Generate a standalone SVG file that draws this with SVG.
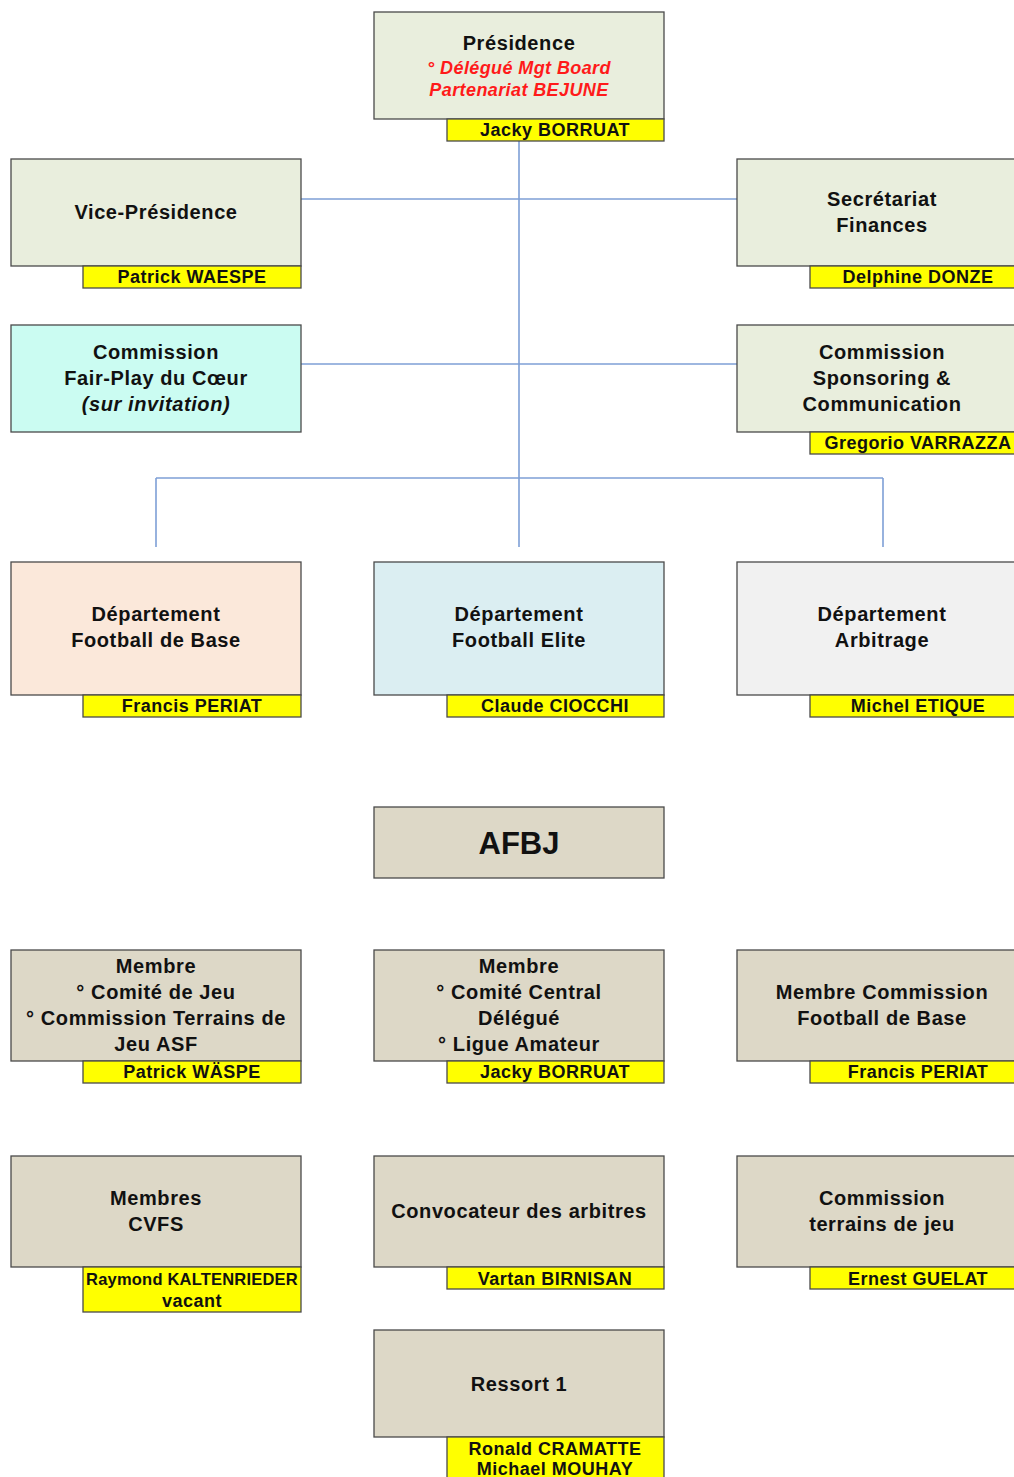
<svg xmlns="http://www.w3.org/2000/svg" width="1014" height="1477" viewBox="0 0 1014 1477">
<style>
.box{stroke:#4a4a4a;stroke-width:1.3}
.g{fill:#e9eedd}
.t{fill:#ddd8c7}
.bar{fill:#ffff00;stroke:#4a4a4a;stroke-width:1.3}
text{font-family:"Liberation Sans",Arial,sans-serif;font-weight:bold;text-anchor:middle;fill:#111}
.lb{font-size:20px;letter-spacing:0.6px}
.nm{font-size:18px;letter-spacing:0.5px}
.red{fill:#ff1a1a;font-style:italic;font-size:18px;letter-spacing:0.4px}
.it{font-style:italic}
.con{stroke:#7e9fd6;stroke-width:1.6;fill:none}
</style>
<rect width="1014" height="1477" fill="#ffffff"/>
<g id="connectors">
<line class="con" x1="519" y1="141" x2="519" y2="547"/>
<line class="con" x1="301" y1="199" x2="737" y2="199"/>
<line class="con" x1="301" y1="364" x2="737" y2="364"/>
<line class="con" x1="156" y1="478" x2="883" y2="478"/>
<line class="con" x1="156" y1="478" x2="156" y2="547"/>
<line class="con" x1="883" y1="478" x2="883" y2="547"/>
</g>
<g id="presidence">
<rect class="box g" x="374" y="12" width="290" height="107"/>
<rect class="bar" x="447" y="119" width="217" height="22"/>
<text class="lb" x="519" y="50">Présidence</text>
<text class="red" x="519" y="74">° Délégué Mgt Board</text>
<text class="red" x="519" y="96">Partenariat BEJUNE</text>
<text class="nm" x="555" y="136">Jacky BORRUAT</text>
</g>
<g id="vice-presidence">
<rect class="box g" x="11" y="159" width="290" height="107"/>
<rect class="bar" x="83" y="266" width="218" height="22"/>
<text class="lb" x="156" y="219">Vice-Présidence</text>
<text class="nm" x="192" y="283">Patrick WAESPE</text>
</g>
<g id="secretariat">
<rect class="box g" x="737" y="159" width="290" height="107"/>
<rect class="bar" x="810" y="266" width="217" height="22"/>
<text class="lb" x="882" y="206">Secrétariat</text>
<text class="lb" x="882" y="232">Finances</text>
<text class="nm" x="918" y="283">Delphine DONZE</text>
</g>
<g id="fairplay">
<rect class="box" fill="#cbfcf2" x="11" y="325" width="290" height="107"/>
<text class="lb" x="156" y="359">Commission</text>
<text class="lb" x="156" y="385">Fair-Play du Cœur</text>
<text class="lb it" x="156" y="411">(sur invitation)</text>
</g>
<g id="sponsoring">
<rect class="box g" x="737" y="325" width="290" height="107"/>
<rect class="bar" x="810" y="432" width="217" height="22"/>
<text class="lb" x="882" y="359">Commission</text>
<text class="lb" x="882" y="385">Sponsoring &amp;</text>
<text class="lb" x="882" y="411">Communication</text>
<text class="nm" x="918" y="449">Gregorio VARRAZZA</text>
</g>
<g id="dep-base">
<rect class="box" fill="#fbe8da" x="11" y="562" width="290" height="133"/>
<rect class="bar" x="83" y="695" width="218" height="22"/>
<text class="lb" x="156" y="621">Département</text>
<text class="lb" x="156" y="647">Football de Base</text>
<text class="nm" x="192" y="712">Francis PERIAT</text>
</g>
<g id="dep-elite">
<rect class="box" fill="#dbeef2" x="374" y="562" width="290" height="133"/>
<rect class="bar" x="447" y="695" width="217" height="22"/>
<text class="lb" x="519" y="621">Département</text>
<text class="lb" x="519" y="647">Football Elite</text>
<text class="nm" x="555" y="712">Claude CIOCCHI</text>
</g>
<g id="dep-arbitrage">
<rect class="box" fill="#f1f1f1" x="737" y="562" width="290" height="133"/>
<rect class="bar" x="810" y="695" width="217" height="22"/>
<text class="lb" x="882" y="621">Département</text>
<text class="lb" x="882" y="647">Arbitrage</text>
<text class="nm" x="918" y="712">Michel ETIQUE</text>
</g>
<g id="afbj">
<rect class="box t" x="374" y="807" width="290" height="71"/>
<text x="519" y="854" style="font-size:31px">AFBJ</text>
</g>
<g id="membre-wäspe">
<rect class="box t" x="11" y="950" width="290" height="111"/>
<rect class="bar" x="83" y="1061" width="218" height="22"/>
<text class="lb" x="156" y="973">Membre</text>
<text class="lb" x="156" y="999">° Comité de Jeu</text>
<text class="lb" x="156" y="1025">° Commission Terrains de</text>
<text class="lb" x="156" y="1051">Jeu ASF</text>
<text class="nm" x="192" y="1078">Patrick WÄSPE</text>
</g>
<g id="membre-borruat">
<rect class="box t" x="374" y="950" width="290" height="111"/>
<rect class="bar" x="447" y="1061" width="217" height="22"/>
<text class="lb" x="519" y="973">Membre</text>
<text class="lb" x="519" y="999">° Comité Central</text>
<text class="lb" x="519" y="1025">Délégué</text>
<text class="lb" x="519" y="1051">° Ligue Amateur</text>
<text class="nm" x="555" y="1078">Jacky BORRUAT</text>
</g>
<g id="membre-periat">
<rect class="box t" x="737" y="950" width="290" height="111"/>
<rect class="bar" x="810" y="1061" width="217" height="22"/>
<text class="lb" x="882" y="999">Membre Commission</text>
<text class="lb" x="882" y="1025">Football de Base</text>
<text class="nm" x="918" y="1078">Francis PERIAT</text>
</g>
<g id="cvfs">
<rect class="box t" x="11" y="1156" width="290" height="111"/>
<rect class="bar" x="83" y="1267" width="218" height="45"/>
<text class="lb" x="156" y="1205">Membres</text>
<text class="lb" x="156" y="1231">CVFS</text>
<text class="nm" x="192" y="1285" style="font-size:16.5px;letter-spacing:0.2px">Raymond KALTENRIEDER</text>
<text class="nm" x="192" y="1307">vacant</text>
</g>
<g id="convocateur">
<rect class="box t" x="374" y="1156" width="290" height="111"/>
<rect class="bar" x="447" y="1267" width="217" height="22"/>
<text class="lb" x="519" y="1218">Convocateur des arbitres</text>
<text class="nm" x="555" y="1285">Vartan BIRNISAN</text>
</g>
<g id="terrains">
<rect class="box t" x="737" y="1156" width="290" height="111"/>
<rect class="bar" x="810" y="1267" width="217" height="22"/>
<text class="lb" x="882" y="1205">Commission</text>
<text class="lb" x="882" y="1231">terrains de jeu</text>
<text class="nm" x="918" y="1285">Ernest GUELAT</text>
</g>
<g id="ressort1">
<rect class="box t" x="374" y="1330" width="290" height="107"/>
<rect class="bar" x="447" y="1437" width="217" height="50"/>
<text class="lb" x="519" y="1391">Ressort 1</text>
<text class="nm" x="555" y="1455">Ronald CRAMATTE</text>
<text class="nm" x="555" y="1475">Michael MOUHAY</text>
</g>
</svg>
